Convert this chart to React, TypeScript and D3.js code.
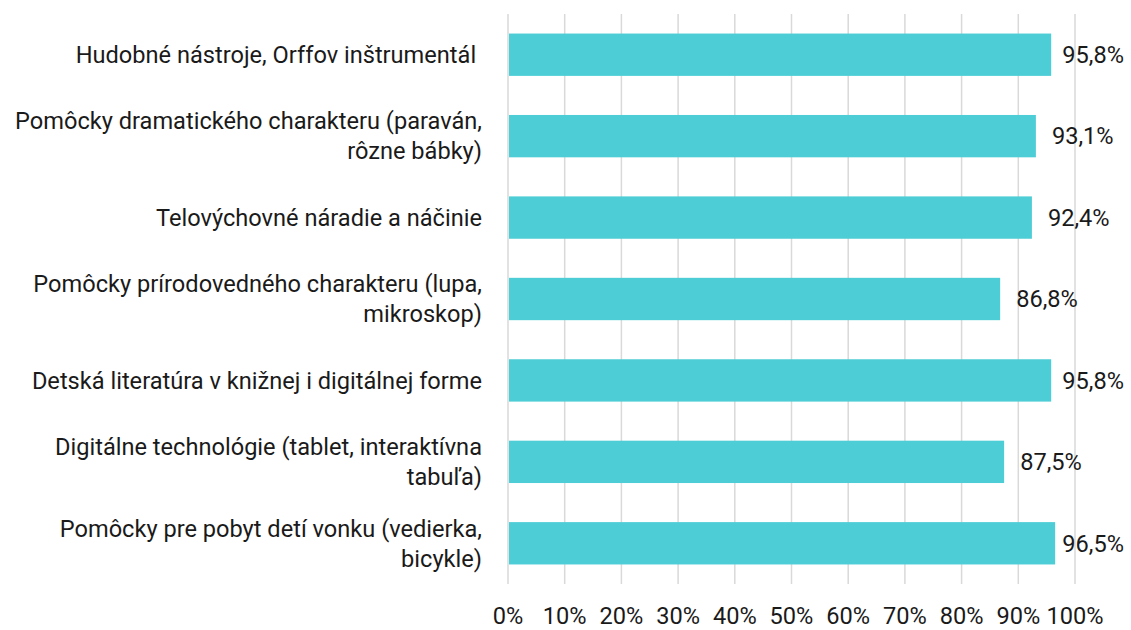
import React from "react";
import * as d3 from "d3";

const categories: string[][] = [
  ["Hudobné nástroje, Orffov inštrumentál "],
  ["Pomôcky dramatického charakteru (paraván,", "rôzne bábky)"],
  ["Telovýchovné náradie a náčinie"],
  ["Pomôcky prírodovedného charakteru (lupa,", "mikroskop)"],
  ["Detská literatúra v knižnej i digitálnej forme"],
  ["Digitálne technológie (tablet, interaktívna", "tabuľa)"],
  ["Pomôcky pre pobyt detí vonku (vedierka,", "bicykle)"],
];
const values: number[] = [95.8, 93.1, 92.4, 86.8, 95.8, 87.5, 96.5];
const valueLabels: string[] = ["95,8%", "93,1%", "92,4%", "86,8%", "95,8%", "87,5%", "96,5%"];
const ticks: number[] = [0, 10, 20, 30, 40, 50, 60, 70, 80, 90, 100];

const W = 1131;
const H = 630;
const left = 508;
const right = 1075;
const top = 14;
const bottom = 584;
const FONT = "Roboto, 'Noto Sans', sans-serif";
const FS = 23.6;
const textColor = "#1a1a1a";
const labelRightLimit = 1124;

function measure(s: string): number {
  if (typeof document === "undefined") return s.length * FS * 0.5;
  const c = document.createElement("canvas").getContext("2d");
  if (!c) return s.length * FS * 0.5;
  c.font = `${FS}px Roboto`;
  return c.measureText(s).width;
}

export default function App() {
  const x = d3.scaleLinear().domain([0, 100]).range([left, right]);
  const y = d3
    .scaleBand<number>()
    .domain(d3.range(categories.length))
    .range([top, bottom])
    .paddingInner(0.48)
    .paddingOuter(0.24);
  const lineH = 30;
  return (
    <svg width={W} height={H} style={{ position: "absolute", left: 0, top: 0, background: "#fff" }}>
      {ticks.map((t) => (
        <line key={t} x1={x(t)} x2={x(t)} y1={top} y2={bottom} stroke="#d9d9d9" strokeWidth={1.5} />
      ))}
      {values.map((v, i) => (
        <rect key={i} x={x(0) + 1} y={y(i)!} width={x(v) - x(0) - 1} height={y.bandwidth()} fill="#4dcdd5" />
      ))}
      {values.map((v, i) => {
        const cy = y(i)! + y.bandwidth() / 2;
        const w = measure(valueLabels[i]);
        const lx = Math.min(x(v) + 16, labelRightLimit - w);
        return (
          <text key={i} x={lx} y={cy} dy="0.35em" fontFamily={FONT} fontSize={FS} fill={textColor}>
            {valueLabels[i]}
          </text>
        );
      })}
      {categories.map((lines, i) => {
        const cy = y(i)! + y.bandwidth() / 2;
        const n = lines.length;
        return (
          <g key={i} transform={`translate(482,${cy})`}>
            {lines.map((l, j) => (
              <text
                key={j}
                y={(j - (n - 1) / 2) * lineH}
                dy="0.35em"
                textAnchor="end"
                fontFamily={FONT}
                fontSize={FS}
                fill={textColor}
                style={{ whiteSpace: "pre" }}
              >
                {l}
              </text>
            ))}
          </g>
        );
      })}
      {ticks.map((t) => (
        <text
          key={t}
          x={x(t)}
          y={616}
          dy="0.35em"
          textAnchor="middle"
          fontFamily={FONT}
          fontSize={FS}
          fill={textColor}
        >
          {t + "%"}
        </text>
      ))}
    </svg>
  );
}
